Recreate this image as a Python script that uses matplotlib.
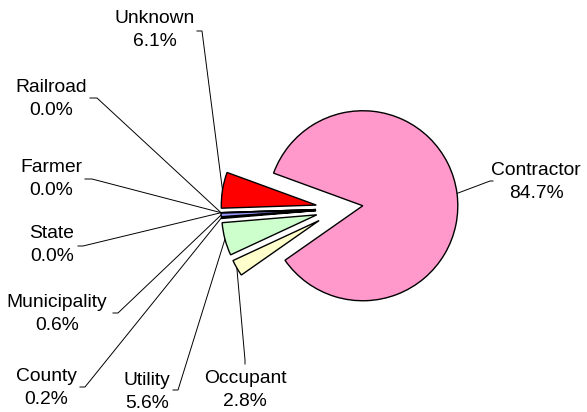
import numpy as np
import matplotlib
matplotlib.use("Agg")
from matplotlib import pyplot as plt

plt.rcParams['font.family'] = ['Liberation Sans', 'DejaVu Sans']

# Share of incidents by responsible party (%)
categories = ["Contractor", "Unknown", "Railroad", "Farmer", "State",
              "Municipality", "County", "Utility", "Occupant"]
shares = [84.7, 6.1, 0.0, 0.0, 0.0, 0.6, 0.2, 5.6, 2.8]
colors = ["#FF99CC", "#FF0000", "#000080", "#FF00FF", "#FFFF00",
          "#9999FF", "#993366", "#CCFFCC", "#FFFFCC"]

W, H = 587, 412

# label layout in pixels (y from top): text centre, line start, elbow
label_xy = [(536, 182), (155, 30), (51, 99), (51, 179), (52, 245),
            (57, 314), (46, 388), (147, 392), (245, 390)]
line_start = [(493, 181), (197, 31), (90, 98), (85, 179), (78, 246),
              (113, 313), (80, 387), (173, 390), (245, 364)]
line_elbow = [(490, 181), (202, 31), (97, 98), (92, 179), (83, 246),
              (118, 313), (85, 387), (178, 390), (245, 360)]

fig = plt.figure(figsize=(W / 100, H / 100), dpi=100)
ax = fig.add_axes([0, 0, 1, 1])

# explode is in data units (pixels here)
wedges, _ = ax.pie(shares, colors=colors, startangle=-145, counterclock=True,
                   radius=95, center=(339.5, H - 208.8),
                   explode=[23.5] * len(shares),
                   wedgeprops=dict(edgecolor="black", linewidth=1.0))

for i, w in enumerate(wedges):
    mid = np.radians((w.theta1 + w.theta2) / 2)
    px = w.center[0] + w.r * np.cos(mid)
    py = w.center[1] + w.r * np.sin(mid)
    sx, sy = line_start[i]
    ex, ey = line_elbow[i]
    ax.plot([sx, ex, px], [H - sy, H - ey, py], color="black", lw=0.7, zorder=0)
    tx, ty = label_xy[i]
    ax.text(tx, H - ty, "%s\n%.1f%%" % (categories[i], shares[i]),
            ha="center", va="center", fontsize=13.9, linespacing=1.5,
            color="black")

ax.set_xlim(0, W)
ax.set_ylim(0, H)
ax.set_aspect("equal")
ax.axis("off")

fig.savefig("out.png", dpi=100)
